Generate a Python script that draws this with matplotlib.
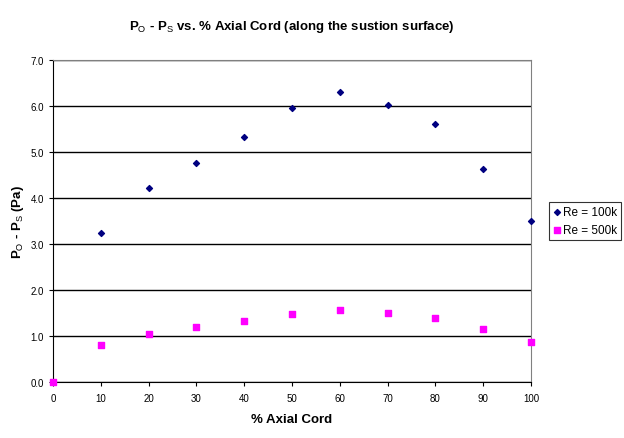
import matplotlib.pyplot as plt

plt.rcParams['font.family'] = ['Liberation Sans', 'DejaVu Sans']
plt.rcParams['mathtext.fontset'] = 'custom'
plt.rcParams['mathtext.rm'] = 'Liberation Sans'
plt.rcParams['mathtext.it'] = 'Liberation Sans'
plt.rcParams['mathtext.bf'] = 'Liberation Sans:bold'

axial = [0, 10, 20, 30, 40, 50, 60, 70, 80, 90, 100]
re_100k = [0.0, 3.23, 4.21, 4.77, 5.33, 5.96, 6.30, 6.02, 5.61, 4.63, 3.50]
re_500k = [0.0, 0.80, 1.04, 1.20, 1.33, 1.48, 1.57, 1.50, 1.39, 1.15, 0.87]

fig = plt.figure(figsize=(6.24, 4.39), dpi=100)
ax = fig.add_axes([0.085, 0.1276, 0.766, 0.7334])

ax.scatter(axial, re_100k, marker='D', s=9, color='#000080', label='Re = 100k', zorder=3, clip_on=False)
ax.scatter(axial, re_500k, marker='s', s=22, color='#FF00FF', label='Re = 500k', zorder=4, clip_on=False)

ax.set_xlim(0, 100)
ax.set_ylim(0, 7)
ax.set_xticks(range(0, 101, 10))
ax.set_yticks(range(0, 8))
ax.set_yticklabels(['%.1f' % v for v in range(0, 8)])
ax.tick_params(labelsize=7, direction='out', length=3, width=0.8)
ax.tick_params(axis='x', pad=5)
ax.yaxis.grid(True, color='black', linewidth=1)
ax.set_axisbelow(True)
ax.spines['left'].set_color('black')
ax.spines['bottom'].set_color('black')
ax.spines['top'].set_color('#808080')
ax.spines['right'].set_color('#808080')

ax.set_title(r'$\mathbf{P}_\mathrm{O}$ - $\mathbf{P}_\mathrm{S}$ vs. % Axial Cord (along the sustion surface)',
             fontsize=9.5, fontweight='bold', pad=22)
ax.set_xlabel('% Axial Cord', fontsize=9.5, fontweight='bold', labelpad=7)
ax.set_ylabel(r'$\mathbf{P}_\mathrm{O}$ - $\mathbf{P}_\mathrm{S}$ (Pa)', fontsize=9.5, fontweight='bold', labelpad=3)

leg = ax.legend(loc='center left', bbox_to_anchor=(1.038, 0.50), fontsize=8.5,
                frameon=True, fancybox=False, handlelength=0.6, handletextpad=0.2,
                borderpad=0.35, labelspacing=0.45, borderaxespad=0)
leg.get_frame().set_edgecolor('black')
leg.get_frame().set_linewidth(0.8)

fig.savefig('out.png', dpi=100)
